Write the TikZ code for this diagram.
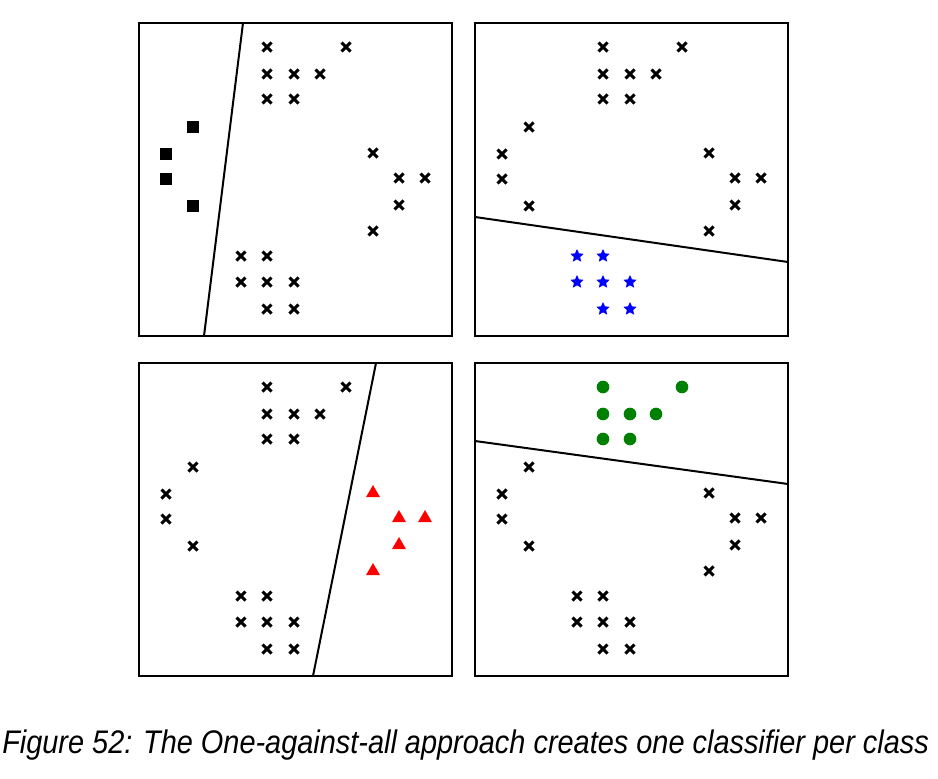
\documentclass[tikz,border=0pt]{standalone}
\usepackage{xcolor}
\usepackage{fontspec}
\setmainfont{Liberation Sans}
\usepackage{tikz}
\usetikzlibrary{shapes.geometric}

\definecolor{ptgreen}{RGB}{0,128,0}
% point clusters, panel coordinates (origin at top left corner of a panel)
\newcommand{\clTop}{128/24,207/24,128/51,155/51,181/51,128/76,155/76}
\newcommand{\clLeft}{54/104,27/131,27/156,54/183}
\newcommand{\clRight}{234/130,260/155,286/155,260/182,234/208}
\newcommand{\clBot}{102/233,128/233,102/259,128/259,155/259,128/286,155/286}

\begin{document}
\begin{tikzpicture}[x=0.75pt,y=-0.75pt,
  panel/.style={line width=1.5pt},
  sepline/.style={line width=1.5pt},
  xmk/.style={line width=2.2pt},
  sqmk/.style={rectangle,fill=black,inner sep=0pt,minimum size=9pt},
  starmk/.style={star,star points=5,star point ratio=2.1,fill=blue,inner sep=0pt,minimum size=10.5pt},
  trimk/.style={regular polygon,regular polygon sides=3,fill=red,inner sep=0pt,minimum size=12pt},
  dotmk/.style={circle,fill=ptgreen,inner sep=0pt,minimum size=9.5pt}]
  \useasboundingbox (0,0) rectangle (938,778);

  % top left: squares against all
  \begin{scope}[shift={(139,23)}]
    \draw[panel] (0,0) rectangle (313,313);
    \draw[sepline] (104,0) -- (65,313);
    \edef\restLst{\clTop,\clRight,\clBot}
    \foreach \x/\y in \restLst
      \draw[xmk] (\x,\y) +(-4.5,-4.5) -- +(4.5,4.5) +(-4.5,4.5) -- +(4.5,-4.5);
    \foreach \x/\y [count=\i] in \clLeft
      \node[sqmk] (sq\i) at (\x,\y) {};
  \end{scope}

  % top right: stars against all
  \begin{scope}[shift={(475,23)}]
    \draw[panel] (0,0) rectangle (313,313);
    \draw[sepline] (0,194) -- (313,239);
    \edef\restLst{\clTop,\clLeft,\clRight}
    \foreach \x/\y in \restLst
      \draw[xmk] (\x,\y) +(-4.5,-4.5) -- +(4.5,4.5) +(-4.5,4.5) -- +(4.5,-4.5);
    \foreach \x/\y [count=\i] in \clBot
      \node[starmk] (st\i) at (\x,\y) {};
  \end{scope}

  % bottom left: triangles against all
  \begin{scope}[shift={(139,363)}]
    \draw[panel] (0,0) rectangle (313,313);
    \draw[sepline] (237,0) -- (174,313);
    \edef\restLst{\clTop,\clLeft,\clBot}
    \foreach \x/\y in \restLst
      \draw[xmk] (\x,\y) +(-4.5,-4.5) -- +(4.5,4.5) +(-4.5,4.5) -- +(4.5,-4.5);
    \foreach \x/\y [count=\i] in \clRight
      \node[trimk] (tr\i) at (\x,\y) {};
  \end{scope}

  % bottom right: circles against all
  \begin{scope}[shift={(475,363)}]
    \draw[panel] (0,0) rectangle (313,313);
    \draw[sepline] (0,78) -- (313,121);
    \edef\restLst{\clLeft,\clRight,\clBot}
    \foreach \x/\y in \restLst
      \draw[xmk] (\x,\y) +(-4.5,-4.5) -- +(4.5,4.5) +(-4.5,4.5) -- +(4.5,-4.5);
    \foreach \x/\y [count=\i] in \clTop
      \node[dotmk] (dt\i) at (\x,\y) {};
  \end{scope}

  \node[anchor=base west,inner sep=0pt,font=\fontsize{24.5}{28}\selectfont\itshape] (caption) at (2,753)
    {\scalebox{0.885}[1]{Figure 52: The One-against-all approach creates one classifier per class}};
\end{tikzpicture}
\end{document}
